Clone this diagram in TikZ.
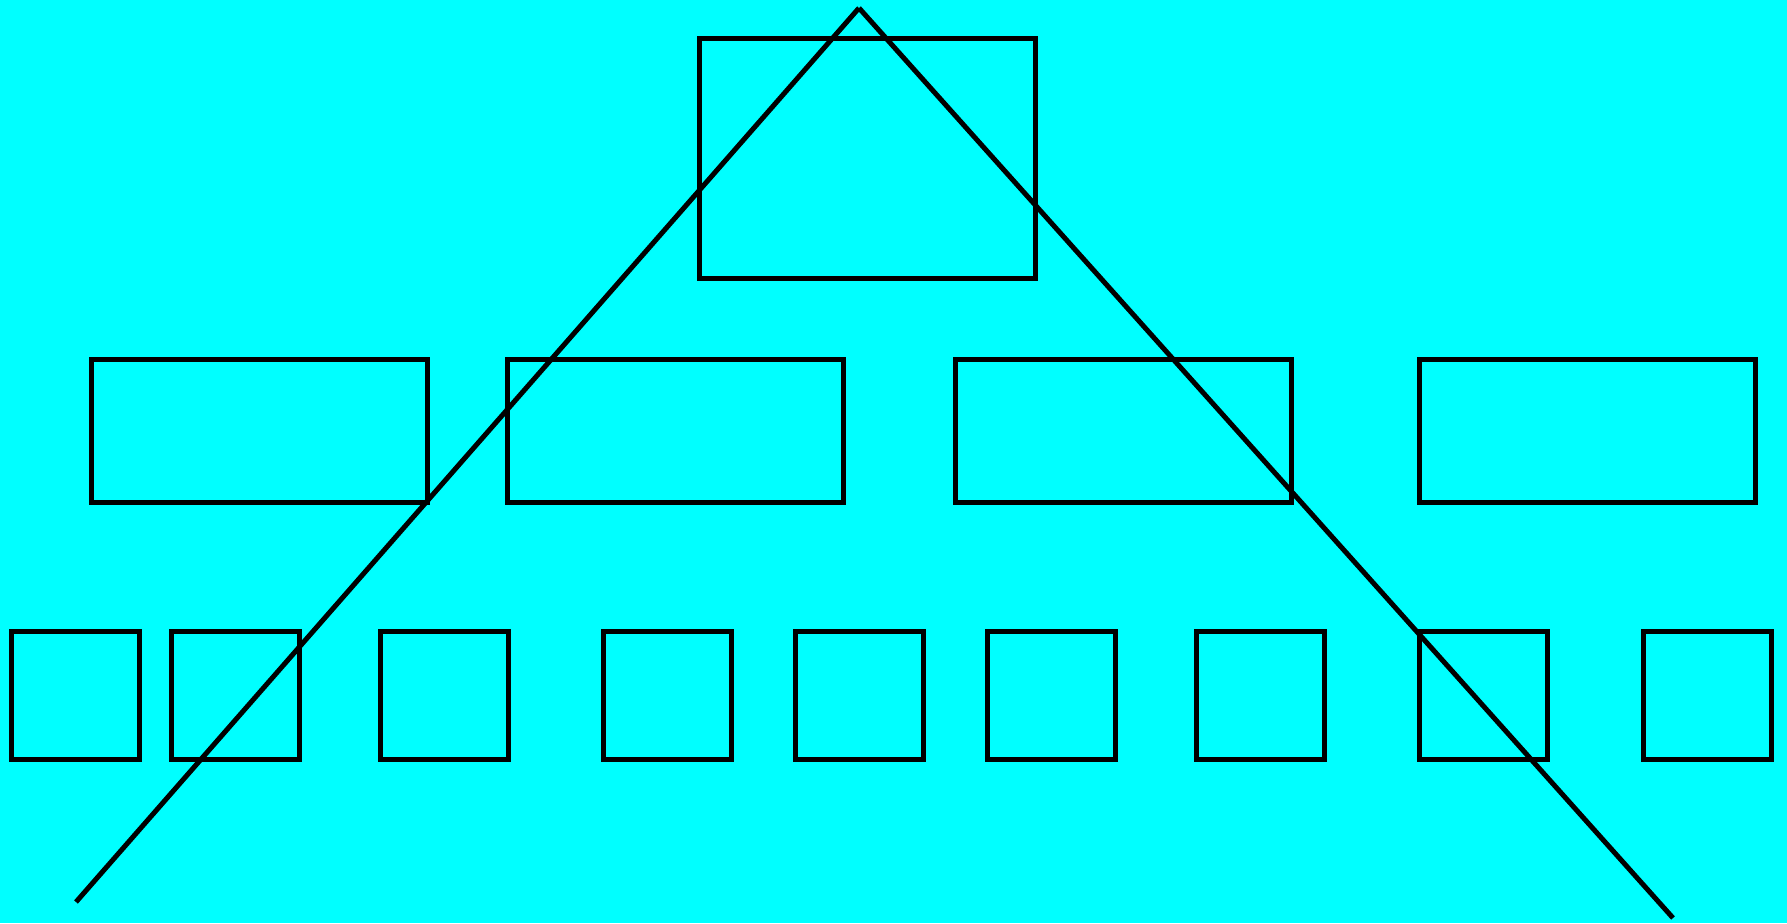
\documentclass[tikz,border=0pt]{standalone}
\definecolor{aqua}{RGB}{0,255,255}
\begin{document}
\begin{tikzpicture}[x=1pt,y=-1pt,
  box/.style={draw=black,line width=5pt,inner sep=0pt,outer sep=0pt},
  bigbox/.style={box,minimum width=336pt,minimum height=239pt},
  midbox/.style={box,minimum width=336pt,minimum height=143pt},
  smallbox/.style={box,minimum width=128pt,minimum height=128pt},
  ray/.style={draw=black,line width=5pt,line cap=butt}]
\fill[aqua] (0,0) rectangle (1787,923);
\useasboundingbox (0,0) rectangle (1787,923);
\node[bigbox] (top) at (867,158.5) {};
\node[midbox] (m1) at (259,430.5) {};
\node[midbox] (m2) at (675,430.5) {};
\node[midbox] (m3) at (1123,430.5) {};
\node[midbox] (m4) at (1587,430.5) {};
\foreach \i/\x in {1/75,2/235,3/444,4/667,5/859,6/1051,7/1260,8/1483,9/1707}
  \node[smallbox] (b\i) at (\x,695) {};
\coordinate (apex) at (859,8);
\coordinate (lend) at (76,902);
\coordinate (rend) at (1673,918);
\draw[ray] (lend) -- (apex);
\draw[ray] (apex) -- (rend);
\end{tikzpicture}
\end{document}
